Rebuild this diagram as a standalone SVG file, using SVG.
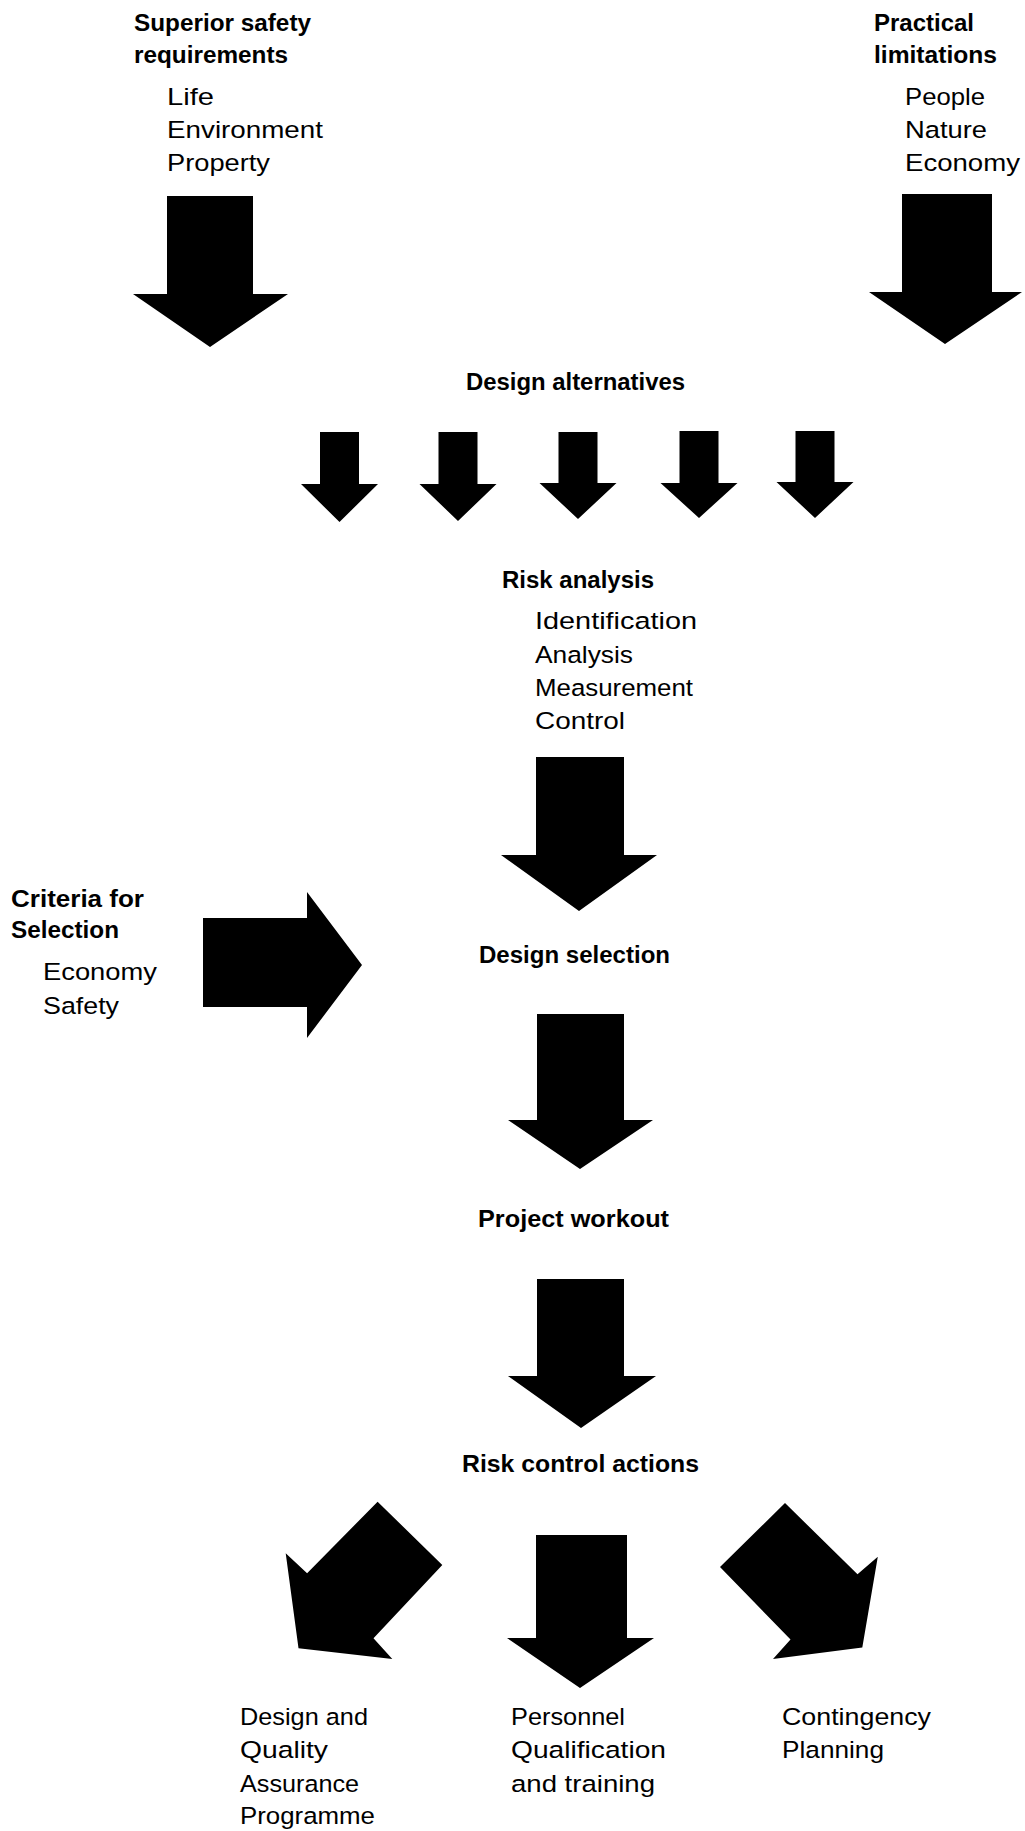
<svg xmlns="http://www.w3.org/2000/svg" width="1025" height="1831" viewBox="0 0 1025 1831">
<style>
  text { font-family: "Liberation Sans", Arial, sans-serif; fill: #000; }
  .h { font-weight: bold; font-size: 23.5px; }
  .t { font-size: 24.5px; }
  .arrow { fill: #000; stroke: none; }
</style>
<rect width="1025" height="1831" fill="#fff"/>
<g id="n-superior">
  <text class="h" x="134" y="31" textLength="177" lengthAdjust="spacingAndGlyphs">Superior safety</text>
  <text class="h" x="134" y="63" textLength="154" lengthAdjust="spacingAndGlyphs">requirements</text>
  <text class="t" x="167" y="105" textLength="47" lengthAdjust="spacingAndGlyphs">Life</text>
  <text class="t" x="167" y="138" textLength="156" lengthAdjust="spacingAndGlyphs">Environment</text>
  <text class="t" x="167" y="171" textLength="103" lengthAdjust="spacingAndGlyphs">Property</text>
</g>
<g id="n-practical">
  <text class="h" x="874" y="31" textLength="100" lengthAdjust="spacingAndGlyphs">Practical</text>
  <text class="h" x="874" y="63" textLength="123" lengthAdjust="spacingAndGlyphs">limitations</text>
  <text class="t" x="905" y="105" textLength="80" lengthAdjust="spacingAndGlyphs">People</text>
  <text class="t" x="905" y="138" textLength="82" lengthAdjust="spacingAndGlyphs">Nature</text>
  <text class="t" x="905" y="171" textLength="115" lengthAdjust="spacingAndGlyphs">Economy</text>
</g>
<g id="n-design-alternatives">
  <text class="h" x="466" y="390" textLength="219" lengthAdjust="spacingAndGlyphs">Design alternatives</text>
</g>
<g id="n-risk-analysis">
  <text class="h" x="502" y="588" textLength="152" lengthAdjust="spacingAndGlyphs">Risk analysis</text>
  <text class="t" x="535" y="629" textLength="162" lengthAdjust="spacingAndGlyphs">Identification</text>
  <text class="t" x="535" y="663" textLength="98" lengthAdjust="spacingAndGlyphs">Analysis</text>
  <text class="t" x="535" y="696" textLength="158" lengthAdjust="spacingAndGlyphs">Measurement</text>
  <text class="t" x="535" y="729" textLength="90" lengthAdjust="spacingAndGlyphs">Control</text>
</g>
<g id="n-criteria">
  <text class="h" x="11" y="907" textLength="133" lengthAdjust="spacingAndGlyphs">Criteria for</text>
  <text class="h" x="11" y="938" textLength="108" lengthAdjust="spacingAndGlyphs">Selection</text>
  <text class="t" x="43" y="980" textLength="114" lengthAdjust="spacingAndGlyphs">Economy</text>
  <text class="t" x="43" y="1014" textLength="76" lengthAdjust="spacingAndGlyphs">Safety</text>
</g>
<g id="n-design-selection">
  <text class="h" x="479" y="963" textLength="191" lengthAdjust="spacingAndGlyphs">Design selection</text>
</g>
<g id="n-project-workout">
  <text class="h" x="478" y="1227" textLength="191" lengthAdjust="spacingAndGlyphs">Project workout</text>
</g>
<g id="n-risk-control">
  <text class="h" x="462" y="1472" textLength="237" lengthAdjust="spacingAndGlyphs">Risk control actions</text>
</g>
<g id="n-dqap">
  <text class="t" x="240" y="1725" textLength="128" lengthAdjust="spacingAndGlyphs">Design and</text>
  <text class="t" x="240" y="1758" textLength="88" lengthAdjust="spacingAndGlyphs">Quality</text>
  <text class="t" x="240" y="1792" textLength="119" lengthAdjust="spacingAndGlyphs">Assurance</text>
  <text class="t" x="240" y="1824" textLength="135" lengthAdjust="spacingAndGlyphs">Programme</text>
</g>
<g id="n-personnel">
  <text class="t" x="511" y="1725" textLength="114" lengthAdjust="spacingAndGlyphs">Personnel</text>
  <text class="t" x="511" y="1758" textLength="155" lengthAdjust="spacingAndGlyphs">Qualification</text>
  <text class="t" x="511" y="1792" textLength="144" lengthAdjust="spacingAndGlyphs">and training</text>
</g>
<g id="n-contingency">
  <text class="t" x="782" y="1725" textLength="149" lengthAdjust="spacingAndGlyphs">Contingency</text>
  <text class="t" x="782" y="1758" textLength="102" lengthAdjust="spacingAndGlyphs">Planning</text>
</g>
<g id="connectors">
  <polygon class="arrow" points="167,196 253,196 253,294 288,294 210,347 133,294 167,294"/>
  <polygon class="arrow" points="902,194 992,194 992,292 1022,292 945,344 869,292 902,292"/>
  <polygon class="arrow" points="320,432 359,432 359,484 378,484 339.5,522 301,484 320,484"/>
  <polygon class="arrow" points="438.5,432 477.5,432 477.5,484 496.5,484 458,521 419.5,484 438.5,484"/>
  <polygon class="arrow" points="558.5,432 597.5,432 597.5,483 616.5,483 578,519 539.5,483 558.5,483"/>
  <polygon class="arrow" points="679.5,431 718.5,431 718.5,483 737.5,483 699,518 660.5,483 679.5,483"/>
  <polygon class="arrow" points="795.5,431 834.5,431 834.5,482 853.5,482 815,518 776.5,482 795.5,482"/>
  <polygon class="arrow" points="536,757 624,757 624,855 657,855 579,911 501,855 536,855"/>
  <polygon class="arrow" points="203,918 307,918 307,892 362,965 307,1038 307,1007 203,1007"/>
  <polygon class="arrow" points="537,1014 624,1014 624,1120 653,1120 580,1169 508,1120 537,1120"/>
  <polygon class="arrow" points="537,1279 624,1279 624,1376 656,1376 581,1428 508,1376 537,1376"/>
  <polygon class="arrow" points="377.6,1501.7 442.3,1565 373.5,1638.3 392.3,1659 298.5,1648.3 285.7,1553.3 307.1,1573.3"/>
  <polygon class="arrow" points="536,1535 627,1535 627,1638 654,1638 580,1688 507,1638 536,1638"/>
  <polygon class="arrow" points="785,1503 720,1567 790.5,1639.5 773,1659 862.3,1647.5 877.8,1556.7 857.5,1574.3"/>
</g>
</svg>
